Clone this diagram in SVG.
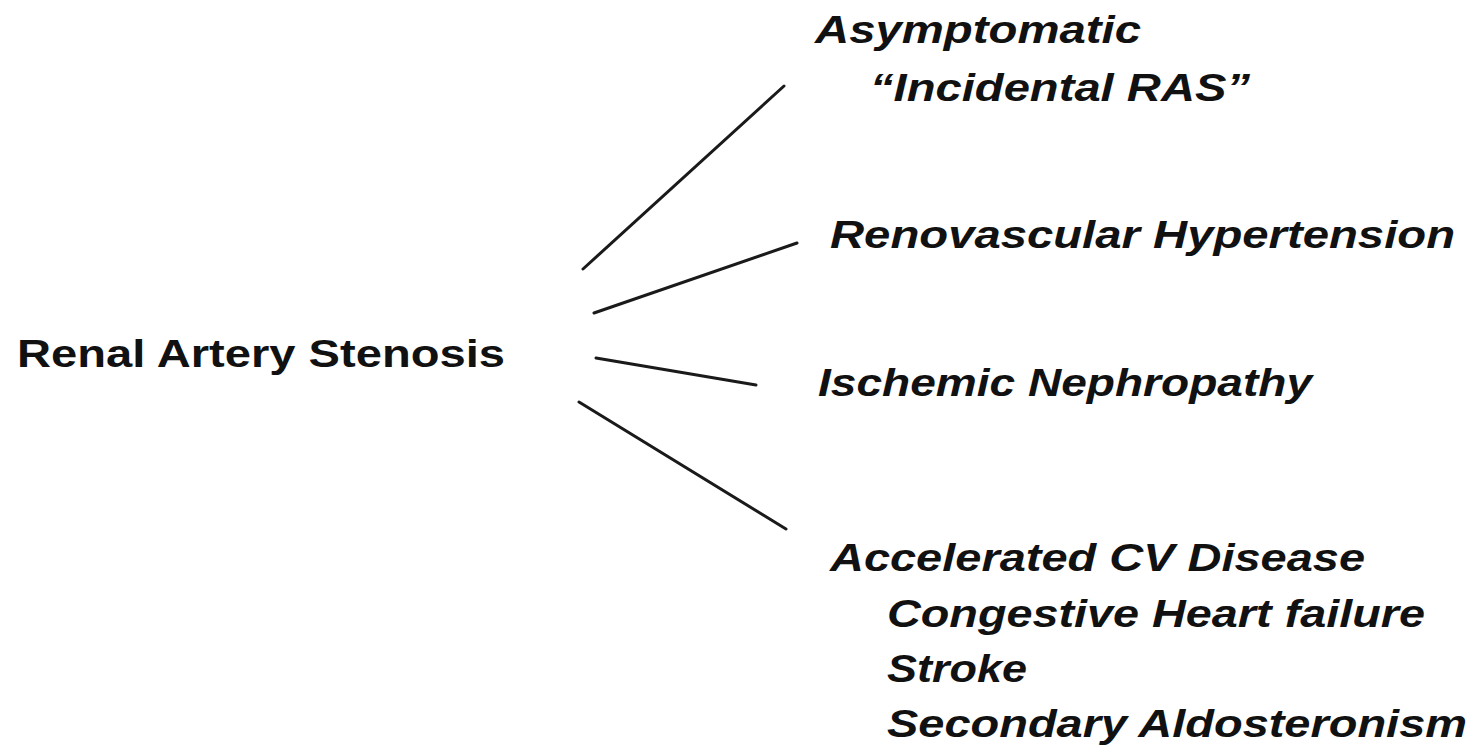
<svg xmlns="http://www.w3.org/2000/svg" width="1477" height="747" viewBox="0 0 1477 747">
<style>
text{font-family:"Liberation Sans",Arial,sans-serif;font-weight:bold;fill:#111;font-size:39px}
.it{font-style:italic}
.c line{stroke:#1a1a1a;stroke-width:3;stroke-linecap:round}
</style>
<rect width="1477" height="747" fill="#fff"/>
<g id="root"><text x="17" y="367" textLength="488" lengthAdjust="spacingAndGlyphs">Renal Artery Stenosis</text></g>
<g id="asymptomatic">
<text class="it" x="815" y="43" textLength="326" lengthAdjust="spacingAndGlyphs">Asymptomatic</text>
<text class="it" x="870" y="101" textLength="380" lengthAdjust="spacingAndGlyphs">“Incidental RAS”</text>
</g>
<g id="renovascular"><text class="it" x="830" y="248" textLength="625" lengthAdjust="spacingAndGlyphs">Renovascular Hypertension</text></g>
<g id="ischemic"><text class="it" x="818" y="396" textLength="494" lengthAdjust="spacingAndGlyphs">Ischemic Nephropathy</text></g>
<g id="cv">
<text class="it" x="830" y="571" textLength="535" lengthAdjust="spacingAndGlyphs">Accelerated CV Disease</text>
<text class="it" x="887" y="627" textLength="538" lengthAdjust="spacingAndGlyphs">Congestive Heart failure</text>
<text class="it" x="887" y="682" textLength="140" lengthAdjust="spacingAndGlyphs">Stroke</text>
<text class="it" x="887" y="737" textLength="580" lengthAdjust="spacingAndGlyphs">Secondary Aldosteronism</text>
</g>
<g id="connectors" class="c">
<line x1="583" y1="269" x2="784" y2="86"/>
<line x1="594" y1="313" x2="797" y2="243"/>
<line x1="596" y1="358" x2="756" y2="385"/>
<line x1="579" y1="402" x2="786" y2="529"/>
</g>
</svg>
